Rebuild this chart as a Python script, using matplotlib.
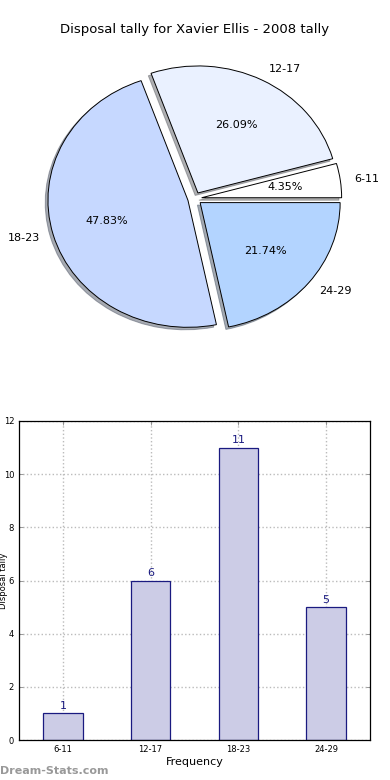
import matplotlib
matplotlib.use("Agg")
import matplotlib.pyplot as plt

categories = ["6-11", "12-17", "18-23", "24-29"]
counts = [1, 6, 11, 5]
pie_colors = ["#FFFFFF", "#EAF1FF", "#C6D8FF", "#B3D4FF"]
title = "Disposal tally for Xavier Ellis - 2008 tally"
yticks = [0, 2, 4, 6, 8, 10, 12]

fig = plt.figure(figsize=(3.9, 7.8), dpi=100)
W, H = 390.0, 780.0

# Pie (elliptical as in reference)
cx, cy, rx, ry = 194.7, 198.6, 140.0, 127.0
lim = 1.3
axp = fig.add_axes([(cx - lim * rx) / W, 1 - (cy + lim * ry) / H,
                    2 * lim * rx / W, 2 * lim * ry / H])
wedges, texts, autotexts = axp.pie(
    counts, labels=categories, colors=pie_colors, explode=[0.05] * 4,
    autopct="%.2f%%", shadow={"ox": -0.014, "oy": -0.014, "shade": 0.6},
    startangle=0,
    wedgeprops=dict(edgecolor="black", linewidth=0.7),
    textprops=dict(fontsize=8))
axp.set_aspect("auto")
axp.set_xlim(-lim, lim)
axp.set_ylim(-lim, lim)
axp.axis("off")
fig.text(0.5, 1 - 30 / H, title, ha="center", va="center", fontsize=9.5)

# Bar chart
axb = fig.add_axes([19 / W, 1 - 740 / H, 351 / W, 319 / H])
x = list(range(len(categories)))
axb.bar(x, counts, width=0.45, color="#CCCCE6", edgecolor="#1A1A80",
        linewidth=0.9, zorder=2)
for xi, v in zip(x, counts):
    axb.text(xi, v + 0.08, str(v), ha="center", va="bottom", fontsize=8,
             color="#1A1A80", zorder=3)
axb.set_xlim(-0.5, 3.5)
axb.set_ylim(0, 12)
axb.set_xticks(x)
axb.set_xticklabels(categories, fontsize=6)
axb.set_yticks(yticks)
axb.set_yticklabels([str(t) for t in yticks], fontsize=6)
axb.tick_params(direction="in", top=True, right=True, length=3, width=0.6,
                color="#888888")
axb.grid(True, linestyle=":", color="#BBBBBB", linewidth=1.0, zorder=0)
axb.set_axisbelow(True)
for s in axb.spines.values():
    s.set_linewidth(0.9)
axb.set_xlabel("Frequency", fontsize=8, labelpad=2)
axb.set_ylabel("Disposal tally", fontsize=6)
axb.yaxis.set_label_coords(-0.031, 0.5)

fig.text(0.0, 1 - 771 / H, "Dream-Stats.com", ha="left", va="center",
         fontsize=8, color="#999999", fontweight="semibold")

fig.savefig("out.png", dpi=100)
